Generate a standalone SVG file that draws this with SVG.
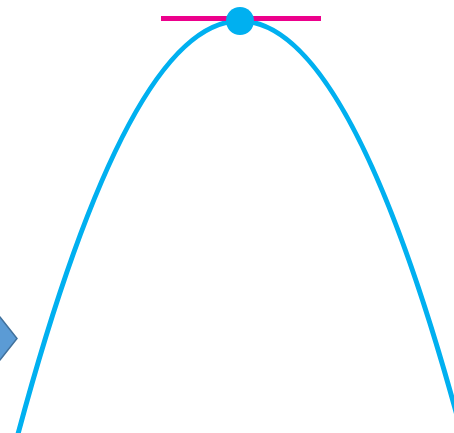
<svg xmlns="http://www.w3.org/2000/svg" width="454" height="433" viewBox="0 0 454 433">
  <style>
    .curve { fill: none; stroke: #00B0F0; stroke-width: 5; }
    .tangent { stroke: #EC008C; stroke-width: 5; }
    .dot { fill: #00B0F0; }
    .chev { fill: #5B9BD5; stroke: #41719C; stroke-width: 1.5; }
  </style>
  <rect width="454" height="433" fill="#FFFFFF"/>
  <g id="parabola">
    <path class="curve" d="M15,445.2 Q240,-403.2 465,445.2"/>
  </g>
  <g id="tangent-line">
    <line class="tangent" x1="161" y1="18.5" x2="321" y2="18.5"/>
  </g>
  <g id="vertex-dot">
    <circle class="dot" cx="240" cy="21" r="14"/>
  </g>
  <g id="arrow">
    <path class="chev" d="M-10,317 L0,317 L17,338.5 L0,360 L-10,360 Z"/>
  </g>
</svg>
